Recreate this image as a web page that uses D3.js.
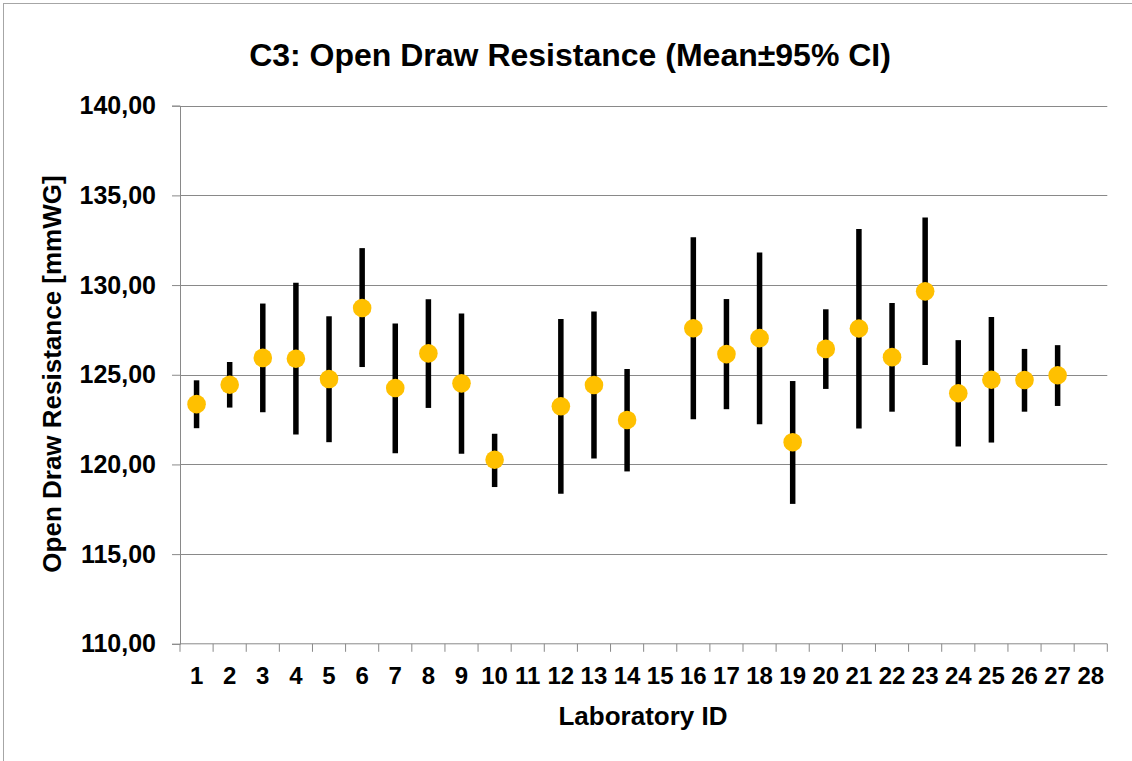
<!DOCTYPE html>
<html lang="en">
<head>
    <meta charset="UTF-8">
    <title>C3: Open Draw Resistance</title>
    <script src="https://d3js.org/d3.v7.min.js"></script>
    <style>
        body { margin: 0; background: #fff; }
        text { font-family: "Liberation Sans", Arial, sans-serif; font-weight: bold; fill: #000; }
    </style>
</head>
<body>
<svg></svg>
<script>

    var width = 1132, height = 761;

    // laboratory ids on the x axis (11 and 15 have no result)
    var labs = d3.range(1, 29).map(String);
    var means = [123.36, 124.44, 125.94, 125.89, 124.76, 128.72, 124.26, 126.19, 124.52, 120.26,
                 null, 123.24, 124.43, 122.48, null, 127.59, 126.15, 127.04, 121.24, 126.44,
                 127.58, 125.98, 129.65, 123.97, 124.72, 124.71, 124.97, null];
    var upper = [124.69, 125.71, 128.97, 130.13, 128.26, 132.06, 127.86, 129.21, 128.41, 121.71,
                 null, 128.11, 128.52, 125.32, null, 132.67, 129.22, 131.82, 124.65, 128.65,
                 133.13, 129.00, 133.76, 126.93, 128.22, 126.44, 126.65, null];
    var lower = [122.02, 123.17, 122.91, 121.67, 121.24, 125.43, 120.63, 123.15, 120.59, 118.74,
                 null, 118.36, 120.33, 119.61, null, 122.52, 123.08, 122.24, 117.80, 124.21,
                 122.00, 122.94, 125.54, 121.00, 121.22, 122.94, 123.26, null];
    var yTicks = [110, 115, 120, 125, 130, 135, 140];

    var svg = d3.select("svg").attr("width", width).attr("height", height);

    // chart frame
    svg.append("rect")
            .attr("x", 3.5).attr("y", 3.5)
            .attr("width", width + 10).attr("height", height + 10)
            .attr("fill", "none")
            .attr("stroke", "#a6a6a6");

    var xScale = d3.scaleBand()
            .domain(labs)
            .range([180, 1107.3]);

    var yScale = d3.scaleLinear()
            .domain([110, 140])
            .range([643.8, 105.7]);

    // horizontal gridlines + y axis
    var yAxis = d3.axisLeft(yScale)
            .tickValues(yTicks)
            .tickSize(8)
            .tickPadding(8)
            .tickFormat(function (d) { return d3.format(".2f")(d).replace(".", ","); });
    var gy = svg.append("g").attr("transform", "translate(180,0)").call(yAxis);
    gy.selectAll(".tick line").attr("stroke", "#898989");
    gy.select(".domain").attr("stroke", "#898989");
    gy.selectAll(".tick text").style("font-size", "25px").attr("dx", "-8");

    svg.append("g").selectAll("line")
            .data(yTicks.filter(function (d) { return d > 110; }))
            .enter()
            .append("line")
            .attr("x1", 180).attr("x2", 1107.3)
            .attr("y1", function (d) { return Math.round(yScale(d)) + 0.5; })
            .attr("y2", function (d) { return Math.round(yScale(d)) + 0.5; })
            .attr("stroke", "#898989");

    // x axis with ticks between categories
    var gx = svg.append("g").attr("transform", "translate(0," + yScale(110) + ")");
    gx.append("line")
            .attr("x1", 180).attr("x2", 1107.3)
            .attr("stroke", "#898989");
    gx.selectAll(".sep")
            .data(labs.concat(["end"]))
            .enter()
            .append("line")
            .attr("x1", function (d, i) { return 180 + i * xScale.bandwidth(); })
            .attr("x2", function (d, i) { return 180 + i * xScale.bandwidth(); })
            .attr("y1", 0).attr("y2", 8)
            .attr("stroke", "#898989");
    gx.selectAll(".lbl")
            .data(labs)
            .enter()
            .append("text")
            .attr("x", function (d) { return xScale(d) + xScale.bandwidth() / 2; })
            .attr("y", 40)
            .attr("text-anchor", "middle")
            .style("font-size", "24px")
            .text(function (d) { return d; });

    // error bars
    var rows = labs.map(function (d, i) {
        return {lab: d, mean: means[i], hi: upper[i], lo: lower[i]};
    }).filter(function (d) { return d.mean !== null; });

    svg.append("g").selectAll("line")
            .data(rows)
            .enter()
            .append("line")
            .attr("x1", function (d) { return xScale(d.lab) + xScale.bandwidth() / 2; })
            .attr("x2", function (d) { return xScale(d.lab) + xScale.bandwidth() / 2; })
            .attr("y1", function (d) { return yScale(d.hi); })
            .attr("y2", function (d) { return yScale(d.lo); })
            .attr("stroke", "#000")
            .attr("stroke-width", 5.5);

    svg.append("g").selectAll("circle")
            .data(rows)
            .enter()
            .append("circle")
            .attr("cx", function (d) { return xScale(d.lab) + xScale.bandwidth() / 2; })
            .attr("cy", function (d) { return yScale(d.mean); })
            .attr("r", 9.3)
            .attr("fill", "#ffc000");

    // titles
    svg.append("text")
            .attr("x", 570).attr("y", 66)
            .attr("text-anchor", "middle")
            .style("font-size", "32px")
            .text("C3: Open Draw Resistance (Mean\u00b195% CI)");

    svg.append("text")
            .attr("x", 643).attr("y", 725)
            .attr("text-anchor", "middle")
            .style("font-size", "26px")
            .text("Laboratory ID");

    svg.append("text")
            .attr("transform", "translate(61,374) rotate(-90)")
            .attr("text-anchor", "middle")
            .style("font-size", "26px")
            .text("Open Draw Resistance [mmWG]");
</script>
</body>
</html>
